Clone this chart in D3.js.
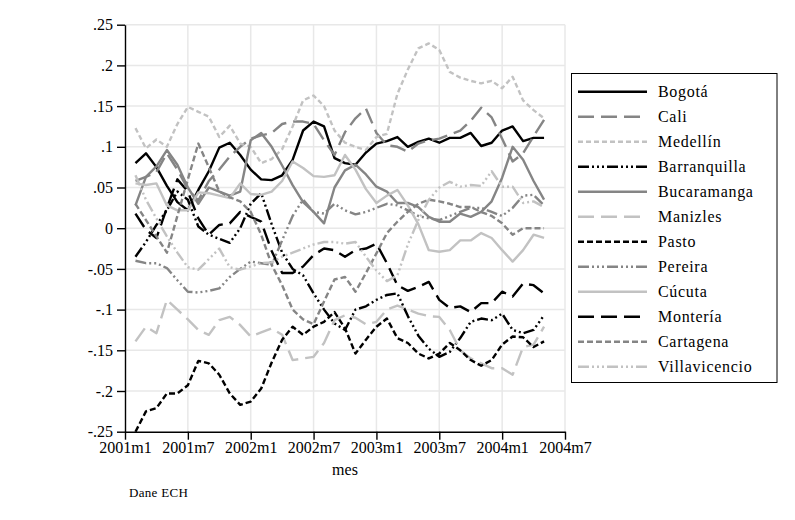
<!DOCTYPE html>
<html>
<head>
<meta charset="utf-8">
<script src="https://cdn.jsdelivr.net/npm/d3@7"></script>
<style>
  html, body { margin: 0; padding: 0; background: #fff; }
  svg { display: block; }
  text { font-family: "Liberation Serif", "Times New Roman", serif; fill: #000; }
</style>
</head>
<body>
<svg id="chart" width="795" height="520"></svg>
<script>
// ---- data ----
const meses = ["2001m2","2001m3","2001m4","2001m5","2001m6","2001m7","2001m8","2001m9","2001m10","2001m11","2001m12",
  "2002m1","2002m2","2002m3","2002m4","2002m5","2002m6","2002m7","2002m8","2002m9","2002m10","2002m11","2002m12",
  "2003m1","2003m2","2003m3","2003m4","2003m5","2003m6","2003m7","2003m8","2003m9","2003m10","2003m11","2003m12",
  "2004m1","2004m2","2004m3","2004m4","2004m5"];
const mesIndex = [1,2,3,4,5,6,7,8,9,10,11,12,13,14,15,16,17,18,19,20,21,22,23,24,25,26,27,28,29,30,31,32,33,34,35,36,37,38,39,40];

const bogota = [.080,.092,.075,.052,.032,.022,.047,.070,.099,.105,.090,.072,.060,.059,.065,.084,.120,.131,.125,.086,.080,.078,.093,.104,.107,.112,.100,.106,.110,.105,.111,.111,.117,.101,.105,.120,.125,.107,.111,.111];
const cali = [.058,.063,.069,.092,.072,.048,.034,.058,.072,.088,.100,.110,.114,.117,.128,.131,.131,.128,.108,.090,.118,.135,.147,.117,.102,.100,.094,.104,.108,.110,.115,.120,.132,.148,.136,.110,.082,.092,.113,.133];
const medellin = [.123,.098,.109,.100,.128,.149,.143,.137,.112,.126,.104,.100,.080,.085,.097,.125,.157,.163,.150,.120,.105,.100,.096,.112,.116,.165,.195,.221,.227,.219,.192,.185,.181,.178,.181,.172,.186,.157,.145,.135];
const barranquilla = [-.035,-.017,.004,.022,.045,.035,.002,-.008,-.013,-.018,.000,.030,.043,.005,-.030,-.050,-.058,-.080,-.100,-.117,-.125,-.100,-.096,-.088,-.082,-.080,-.108,-.132,-.148,-.158,-.152,-.135,-.115,-.111,-.113,-.105,-.125,-.129,-.125,-.107];
const bucaramanga = [.028,.063,.076,.096,.078,.050,.030,.050,.045,.040,.045,.108,.117,.100,.077,.053,.032,.020,.006,.050,.071,.078,.066,.051,.045,.031,.031,.026,.014,.008,.008,.018,.014,.020,.033,.062,.100,.084,.058,.035];
const manizles = [-.139,-.121,-.129,-.088,-.100,-.112,-.125,-.131,-.113,-.109,-.119,-.133,-.128,-.123,-.131,-.162,-.160,-.158,-.141,-.113,-.107,-.110,-.118,-.115,-.100,-.095,-.100,-.105,-.108,-.109,-.125,-.150,-.160,-.166,-.172,-.172,-.180,-.146,-.143,-.121];
const pasto = [-.250,-.225,-.221,-.203,-.203,-.193,-.163,-.166,-.180,-.203,-.217,-.213,-.197,-.165,-.137,-.121,-.131,-.121,-.115,-.103,-.123,-.154,-.137,-.121,-.111,-.135,-.141,-.154,-.160,-.154,-.141,-.150,-.162,-.169,-.162,-.143,-.133,-.134,-.146,-.139];
const pereira = [-.040,-.043,-.043,-.049,-.064,-.078,-.079,-.077,-.074,-.060,-.050,-.041,-.043,-.045,-.015,.015,.035,.020,.018,.030,.022,.017,.020,.025,.030,.028,.022,.015,.012,.010,.015,.020,.025,.025,.020,.015,.025,.040,.041,.028];
const cucuta = [.055,.053,.055,.028,.022,.022,.044,.043,.040,.037,.055,.042,.041,.045,.058,.082,.074,.064,.063,.065,.090,.072,.048,.031,.040,.047,.028,.005,-.027,-.029,-.027,-.015,-.015,-.006,-.012,-.027,-.041,-.027,-.008,-.012];
const monteria = [.018,-.002,-.012,.025,.060,.045,.012,-.008,.004,.006,.020,.014,.008,-.028,-.055,-.055,-.047,-.033,-.025,-.027,-.035,-.027,-.025,-.019,-.043,-.070,-.077,-.072,-.066,-.088,-.098,-.096,-.103,-.092,-.092,-.078,-.084,-.068,-.070,-.080];
const cartagena = [.030,.010,-.010,-.030,.015,.060,.104,.075,.045,.038,.033,.020,-.008,-.045,-.070,-.100,-.112,-.118,-.090,-.063,-.060,-.078,-.055,-.031,-.006,.008,.020,.030,.035,.033,.030,.026,.026,.020,.015,.006,-.008,.000,.000,.000];
const villavicencio = [.065,.035,.012,-.010,-.030,-.048,-.051,-.038,-.025,-.048,-.051,-.047,-.043,-.042,-.035,-.030,-.025,-.020,-.017,-.017,-.019,-.017,-.035,-.052,-.065,-.058,-.020,.010,.035,.050,.057,.051,.053,.052,.070,.051,.051,.031,.033,.026];

const cityNames = ["Bogotá","Cali","Medellín","Barranquilla","Bucaramanga","Manizles","Pasto","Pereira","Cúcuta","Montería","Cartagena","Villavicencio"];
const cityValues = [bogota, cali, medellin, barranquilla, bucaramanga, manizles, pasto, pereira, cucuta, monteria, cartagena, villavicencio];

const yTickValues = [.25,.2,.15,.1,.05,0,-.05,-.1,-.15,-.2,-.25];
const yTickLabels = [".25",".2",".15",".1",".05","0","-.05","-.1","-.15","-.2","-.25"];
const xTickValues = [0,6,12,18,24,30,36,42];
const xTickLabels = ["2001m1","2001m7","2002m1","2002m7","2003m1","2003m7","2004m1","2004m7"];
const xTitle = "mes";
const note = "Dane ECH";

// ---- styles ----
const MID = "#858585", LIGHT = "#c2c2c2";
const LONG = "16,7", SHORT = "6,3", FINE = "5,3", DDOT = "11,3,2,3,2,3,2,3";
const styles = [
  {color:"#000", dash:null},
  {color:MID, dash:LONG},
  {color:LIGHT, dash:FINE},
  {color:"#000", dash:DDOT},
  {color:MID, dash:null},
  {color:LIGHT, dash:LONG},
  {color:"#000", dash:SHORT},
  {color:MID, dash:DDOT},
  {color:LIGHT, dash:null},
  {color:"#000", dash:LONG},
  {color:MID, dash:SHORT},
  {color:LIGHT, dash:DDOT}
];

// ---- layout ----
const svg = d3.select("#chart");
const pL = 125, pR = 565, pT = 24.7, pB = 431.7;
const x = d3.scaleLinear().domain([0, 42]).range([pL, pR]);
const y = d3.scaleLinear().domain([-.25, .25]).range([pB, pT]);

// grid
const grid = svg.append("g");
grid.selectAll("line.h").data(yTickValues.filter(v => v !== -.25)).join("line")
  .attr("x1", pL).attr("x2", pR)
  .attr("y1", d => y(d)).attr("y2", d => y(d))
  .attr("stroke", "#e8e8e8").attr("stroke-width", 1.5);
grid.selectAll("line.v").data(xTickValues.filter(v => v !== 0)).join("line")
  .attr("x1", d => x(d)).attr("x2", d => x(d))
  .attr("y1", pT).attr("y2", pB)
  .attr("stroke", "#e8e8e8").attr("stroke-width", 1.5);

// lines
const line = d3.line().x((d, i) => x(mesIndex[i])).y(d => y(d));
const series = svg.append("g").attr("fill", "none");
cityValues.forEach((vals, k) => {
  series.append("path")
    .attr("d", line(vals))
    .attr("stroke", styles[k].color)
    .attr("stroke-width", 2.4)
    .attr("stroke-linejoin", "round")
    .attr("stroke-dasharray", styles[k].dash);
});

// axes
const yAxis = d3.axisLeft(y).tickValues(yTickValues)
  .tickFormat((d, i) => yTickLabels[i]).tickSize(8).tickSizeOuter(0).tickPadding(4);
const gy = svg.append("g").attr("transform", `translate(${pL},0)`).call(yAxis);
const xAxis = d3.axisBottom(x).tickValues(xTickValues)
  .tickFormat((d, i) => xTickLabels[i]).tickSize(8).tickSizeOuter(0).tickPadding(2);
const gx = svg.append("g").attr("transform", `translate(0,${pB})`).call(xAxis);
[gx, gy].forEach(g => {
  g.select(".domain").attr("stroke", "#000").attr("stroke-width", 1.4);
  g.selectAll(".tick line").attr("stroke", "#000").attr("stroke-width", 1.4);
  g.selectAll(".tick text").attr("font-family", "Liberation Serif").attr("font-size", 16).attr("fill", "#000");
});

svg.append("text").attr("x", (pL + pR) / 2).attr("y", 475)
  .attr("text-anchor", "middle").attr("font-size", 16).text(xTitle);
svg.append("text").attr("x", 129).attr("y", 497)
  .attr("font-size", 13).attr("letter-spacing", 0.3).text(note);

// legend
const lg = svg.append("g");
lg.append("rect").attr("x", 571.5).attr("y", 73.5).attr("width", 205.5).attr("height", 309)
  .attr("fill", "#fff").attr("stroke", "#000").attr("stroke-width", 1);
const rows = lg.selectAll("g.row").data(cityNames).join("g")
  .attr("transform", (d, i) => `translate(0,${91.8 + i * 25})`);
rows.append("line").attr("x1", 578).attr("x2", 647).attr("y1", 0).attr("y2", 0)
  .attr("stroke", (d, i) => styles[i].color)
  .attr("stroke-width", 2.4)
  .attr("stroke-dasharray", (d, i) => styles[i].dash);
rows.append("text").attr("x", 658).attr("y", 5.5)
  .attr("font-size", 16).attr("letter-spacing", 0.7).text(d => d);
</script>
</body>
</html>
